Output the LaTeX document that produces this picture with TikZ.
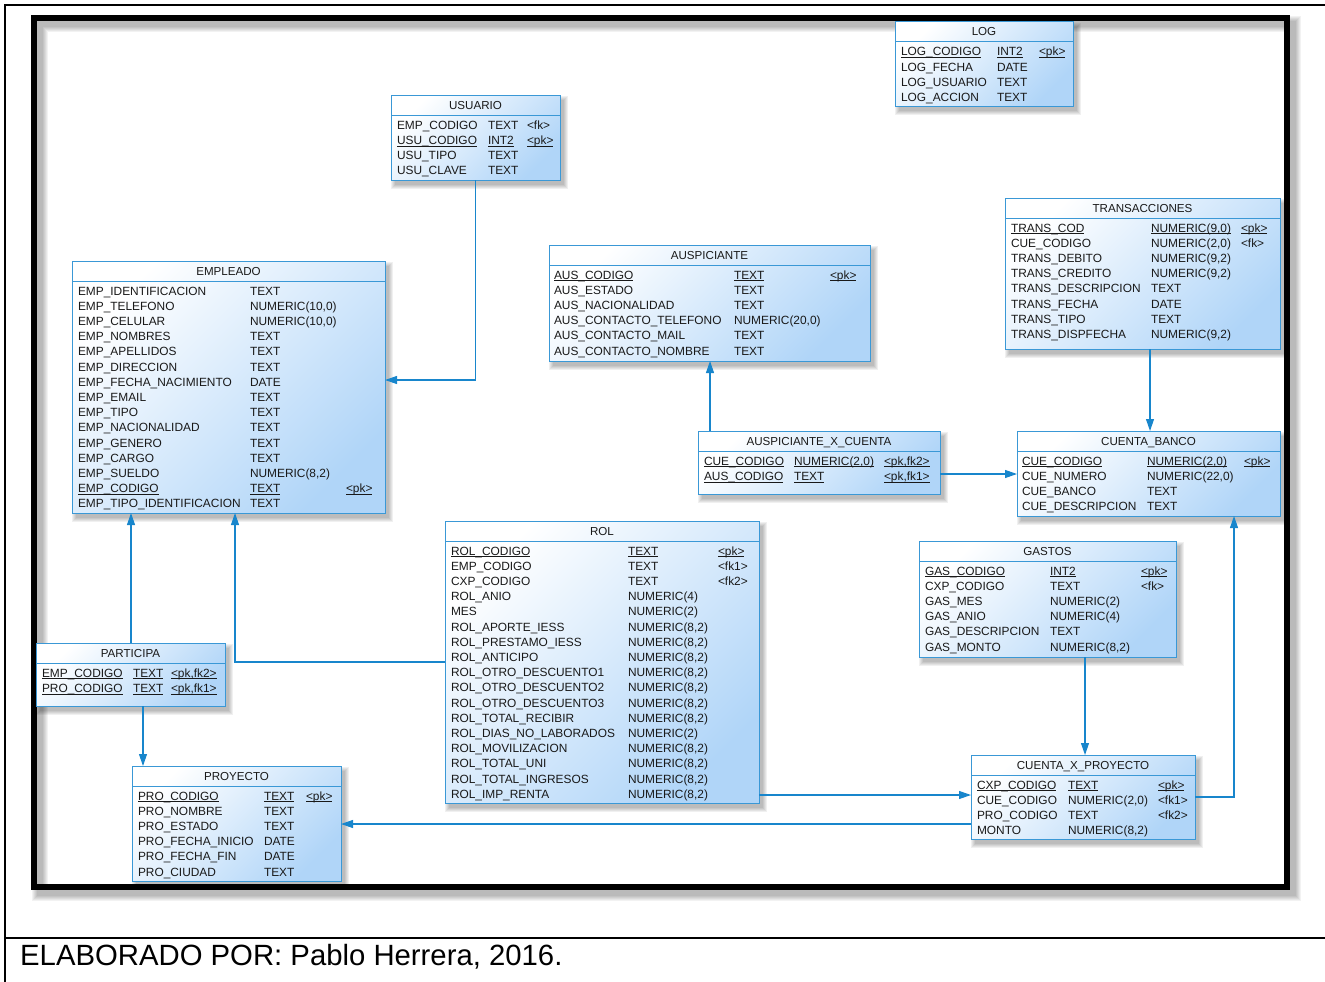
\documentclass[tikz,border=0pt]{standalone}
\usepackage{fontspec}
\setmainfont{Liberation Sans}
\usetikzlibrary{arrows.meta,calc}
\definecolor{bord}{RGB}{58,152,214}
\definecolor{connblue}{RGB}{24,134,204}
\definecolor{fillb}{RGB}{176,213,248}
\definecolor{txt}{RGB}{25,25,25}
\tikzset{
 entbox/.style={draw=bord, line width=1pt, top color=white, bottom color=fillb, shading angle=45, inner sep=0pt, outer sep=0pt, anchor=north west},
 cell/.style={anchor=base west, inner sep=0pt, outer sep=0pt, text=txt, font=\fontsize{11.9}{13}\selectfont},
 ttl/.style={anchor=base, inner sep=0pt, outer sep=0pt, text=txt, font=\fontsize{11.6}{13}\selectfont},
 fk/.style={draw=connblue, line width=1.1pt, -{Triangle[length=12pt,width=8pt]}},
}
\newcommand\ulx[1]{\setbox0=\hbox{#1}\rlap{\rule[-2pt]{\wd0}{0.6pt}}\box0}
\newcommand\fmt[2]{\if u#1\ulx{#2}\else #2\fi}
\newcommand\entity[6]{%
 \def\ename{#1}\def\etop{#3}%
 \foreach \k in {0,...,4}{\fill[black,opacity=0.06] (#2+4-\k,#3+5-\k) rectangle (#4+4+\k,#5+5+\k);}
 \pgfmathsetmacro\ew{#4-#2}\pgfmathsetmacro\eh{#5-#3}%
 \node[entbox, minimum width=\ew pt, minimum height=\eh pt] (#1) at (#2,#3) {};
 \draw[bord, line width=1pt] ($(#1.north west)+(0,20)$) -- ($(#1.north east)+(0,20)$);
 \node[ttl] (#1-title) at ($(#1.north)+(0,14)$) {#6};
}
\newcommand\cols[3]{\def\cA{#1}\def\cB{#2}\def\cC{#3}}
\newcommand\erow[5]{%
 \pgfmathsetmacro\ry{\etop+34+(#1-1)*15.2}%
 \node[cell] (\ename-#1a) at (\cA,\ry) {\fmt{#2}{#3}};
 \node[cell] (\ename-#1b) at (\cB,\ry) {\fmt{#2}{#4}};
 \if\relax\detokenize{#5}\relax\else\node[cell] (\ename-#1c) at (\cC,\ry) {\fmt{#2}{#5}};\fi
}
\begin{document}
\begin{tikzpicture}[x=1pt,y=-1pt]
\useasboundingbox (0,0) rectangle (1325,982);
% outer thin frame
\draw[line width=1.5pt] (5,982) -- (5,5) -- (1325,5);
\draw[line width=2pt] (5,937.5) -- (1325,937.5);
% thick frame with shadow
\foreach \k in {0,...,5}{\pgfmathsetmacro\lw{6+2*\k}\draw[black,opacity=0.05,line width=\lw pt] (40,24) rectangle (1293,893);}
\draw[black, line width=6pt] (33.5,18) rectangle (1287,887);
% caption
\node[anchor=base west, inner sep=0pt, font=\fontsize{29.3}{32}\selectfont] (caption) at (20,965) {ELABORADO POR: Pablo Herrera, 2016.};

% LOG
\entity{log}{895}{22}{1073}{106}{LOG}
\cols{901}{997}{1039}
\erow{1}{u}{LOG\_CODIGO}{INT2}{<pk>}
\erow{2}{n}{LOG\_FECHA}{DATE}{}
\erow{3}{n}{LOG\_USUARIO}{TEXT}{}
\erow{4}{n}{LOG\_ACCION}{TEXT}{}

% USUARIO
\entity{usuario}{391}{95}{560}{180}{USUARIO}
\cols{397}{488}{527}
\erow{1}{n}{EMP\_CODIGO}{TEXT}{<fk>}
\erow{2}{u}{USU\_CODIGO}{INT2}{<pk>}
\erow{3}{n}{USU\_TIPO}{TEXT}{}
\erow{4}{n}{USU\_CLAVE}{TEXT}{}

% EMPLEADO
\entity{empleado}{72}{261}{385}{513}{EMPLEADO}
\cols{78}{250}{346}
\erow{1}{n}{EMP\_IDENTIFICACION}{TEXT}{}
\erow{2}{n}{EMP\_TELEFONO}{NUMERIC(10,0)}{}
\erow{3}{n}{EMP\_CELULAR}{NUMERIC(10,0)}{}
\erow{4}{n}{EMP\_NOMBRES}{TEXT}{}
\erow{5}{n}{EMP\_APELLIDOS}{TEXT}{}
\erow{6}{n}{EMP\_DIRECCION}{TEXT}{}
\erow{7}{n}{EMP\_FECHA\_NACIMIENTO}{DATE}{}
\erow{8}{n}{EMP\_EMAIL}{TEXT}{}
\erow{9}{n}{EMP\_TIPO}{TEXT}{}
\erow{10}{n}{EMP\_NACIONALIDAD}{TEXT}{}
\erow{11}{n}{EMP\_GENERO}{TEXT}{}
\erow{12}{n}{EMP\_CARGO}{TEXT}{}
\erow{13}{n}{EMP\_SUELDO}{NUMERIC(8,2)}{}
\erow{14}{u}{EMP\_CODIGO}{TEXT}{<pk>}
\erow{15}{n}{EMP\_TIPO\_IDENTIFICACION}{TEXT}{}

% AUSPICIANTE
\entity{ausp}{549}{245}{870}{361}{AUSPICIANTE}
\cols{554}{734}{830}
\erow{1}{u}{AUS\_CODIGO}{TEXT}{<pk>}
\erow{2}{n}{AUS\_ESTADO}{TEXT}{}
\erow{3}{n}{AUS\_NACIONALIDAD}{TEXT}{}
\erow{4}{n}{AUS\_CONTACTO\_TELEFONO}{NUMERIC(20,0)}{}
\erow{5}{n}{AUS\_CONTACTO\_MAIL}{TEXT}{}
\erow{6}{n}{AUS\_CONTACTO\_NOMBRE}{TEXT}{}

% TRANSACCIONES
\entity{trans}{1005}{198}{1280}{349}{TRANSACCIONES}
\cols{1011}{1151}{1241}
\erow{1}{u}{TRANS\_COD}{NUMERIC(9,0)}{<pk>}
\erow{2}{n}{CUE\_CODIGO}{NUMERIC(2,0)}{<fk>}
\erow{3}{n}{TRANS\_DEBITO}{NUMERIC(9,2)}{}
\erow{4}{n}{TRANS\_CREDITO}{NUMERIC(9,2)}{}
\erow{5}{n}{TRANS\_DESCRIPCION}{TEXT}{}
\erow{6}{n}{TRANS\_FECHA}{DATE}{}
\erow{7}{n}{TRANS\_TIPO}{TEXT}{}
\erow{8}{n}{TRANS\_DISPFECHA}{NUMERIC(9,2)}{}

% AUSPICIANTE_X_CUENTA
\entity{axc}{698}{431}{940}{494}{AUSPICIANTE\_X\_CUENTA}
\cols{704}{794}{884}
\erow{1}{u}{CUE\_CODIGO}{NUMERIC(2,0)}{<pk,fk2>}
\erow{2}{u}{AUS\_CODIGO}{TEXT}{<pk,fk1>}

% CUENTA_BANCO
\entity{cb}{1017}{431}{1280}{516}{CUENTA\_BANCO}
\cols{1022}{1147}{1244}
\erow{1}{u}{CUE\_CODIGO}{NUMERIC(2,0)}{<pk>}
\erow{2}{n}{CUE\_NUMERO}{NUMERIC(22,0)}{}
\erow{3}{n}{CUE\_BANCO}{TEXT}{}
\erow{4}{n}{CUE\_DESCRIPCION}{TEXT}{}

% ROL
\entity{rol}{445}{521}{759}{803}{ROL}
\cols{451}{628}{718}
\erow{1}{u}{ROL\_CODIGO}{TEXT}{<pk>}
\erow{2}{n}{EMP\_CODIGO}{TEXT}{<fk1>}
\erow{3}{n}{CXP\_CODIGO}{TEXT}{<fk2>}
\erow{4}{n}{ROL\_ANIO}{NUMERIC(4)}{}
\erow{5}{n}{MES}{NUMERIC(2)}{}
\erow{6}{n}{ROL\_APORTE\_IESS}{NUMERIC(8,2)}{}
\erow{7}{n}{ROL\_PRESTAMO\_IESS}{NUMERIC(8,2)}{}
\erow{8}{n}{ROL\_ANTICIPO}{NUMERIC(8,2)}{}
\erow{9}{n}{ROL\_OTRO\_DESCUENTO1}{NUMERIC(8,2)}{}
\erow{10}{n}{ROL\_OTRO\_DESCUENTO2}{NUMERIC(8,2)}{}
\erow{11}{n}{ROL\_OTRO\_DESCUENTO3}{NUMERIC(8,2)}{}
\erow{12}{n}{ROL\_TOTAL\_RECIBIR}{NUMERIC(8,2)}{}
\erow{13}{n}{ROL\_DIAS\_NO\_LABORADOS}{NUMERIC(2)}{}
\erow{14}{n}{ROL\_MOVILIZACION}{NUMERIC(8,2)}{}
\erow{15}{n}{ROL\_TOTAL\_UNI}{NUMERIC(8,2)}{}
\erow{16}{n}{ROL\_TOTAL\_INGRESOS}{NUMERIC(8,2)}{}
\erow{17}{n}{ROL\_IMP\_RENTA}{NUMERIC(8,2)}{}

% GASTOS
\entity{gastos}{919}{541}{1176}{657}{GASTOS}
\cols{925}{1050}{1141}
\erow{1}{u}{GAS\_CODIGO}{INT2}{<pk>}
\erow{2}{n}{CXP\_CODIGO}{TEXT}{<fk>}
\erow{3}{n}{GAS\_MES}{NUMERIC(2)}{}
\erow{4}{n}{GAS\_ANIO}{NUMERIC(4)}{}
\erow{5}{n}{GAS\_DESCRIPCION}{TEXT}{}
\erow{6}{n}{GAS\_MONTO}{NUMERIC(8,2)}{}

% PARTICIPA
\entity{participa}{36}{643}{225}{706}{PARTICIPA}
\cols{42}{133}{171}
\erow{1}{u}{EMP\_CODIGO}{TEXT}{<pk,fk2>}
\erow{2}{u}{PRO\_CODIGO}{TEXT}{<pk,fk1>}

% PROYECTO
\entity{proyecto}{132}{766}{341}{881}{PROYECTO}
\cols{138}{264}{306}
\erow{1}{u}{PRO\_CODIGO}{TEXT}{<pk>}
\erow{2}{n}{PRO\_NOMBRE}{TEXT}{}
\erow{3}{n}{PRO\_ESTADO}{TEXT}{}
\erow{4}{n}{PRO\_FECHA\_INICIO}{DATE}{}
\erow{5}{n}{PRO\_FECHA\_FIN}{DATE}{}
\erow{6}{n}{PRO\_CIUDAD}{TEXT}{}

% CUENTA_X_PROYECTO
\entity{cxp}{971}{755}{1195}{839}{CUENTA\_X\_PROYECTO}
\cols{977}{1068}{1158}
\erow{1}{u}{CXP\_CODIGO}{TEXT}{<pk>}
\erow{2}{n}{CUE\_CODIGO}{NUMERIC(2,0)}{<fk1>}
\erow{3}{n}{PRO\_CODIGO}{TEXT}{<fk2>}
\erow{4}{n}{MONTO}{NUMERIC(8,2)}{}

% connectors
\draw[fk] (usuario.south) |- (empleado.east |- 0,380);
\draw[fk] (axc.north -| 710,0) -- (ausp.south -| 710,0);
\draw[fk] (axc.east |- 0,474) -- (cb.west |- 0,474);
\draw[fk] (trans.south -| 1150,0) -- (cb.north -| 1150,0);
\draw[fk] (participa.north -| 131,0) -- (empleado.south -| 131,0);
\draw[fk] (rol.west |- 0,662) -| (empleado.south -| 235,0);
\draw[fk] (participa.south -| 143,0) -- (proyecto.north -| 143,0);
\draw[fk] (rol.east |- 0,795) -- (cxp.west |- 0,795);
\draw[fk] (cxp.west |- 0,824) -- (proyecto.east |- 0,824);
\draw[fk] (gastos.south -| 1085,0) -- (cxp.north -| 1085,0);
\draw[fk] (cxp.east |- 0,797) -| (cb.south -| 1234,0);
\end{tikzpicture}
\end{document}
